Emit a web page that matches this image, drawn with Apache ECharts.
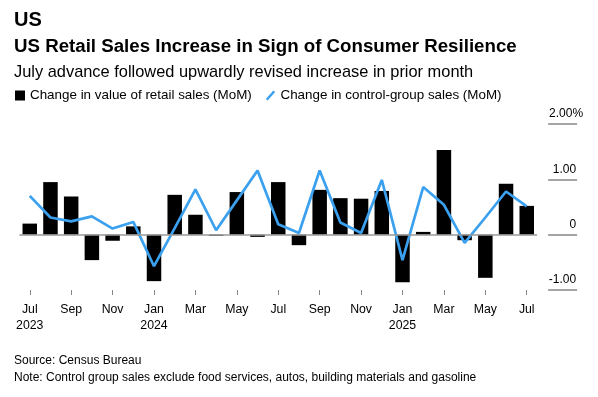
<!DOCTYPE html>
<html>
<head>
<meta charset="utf-8">
<script src="https://cdn.jsdelivr.net/npm/echarts@6/dist/echarts.min.js"></script>
<style>
  html, body { margin: 0; padding: 0; background: #fff; }
  #chart { width: 598px; height: 397px; }
</style>
</head>
<body>
<div id="chart"></div>
<script>
// months Jul 2023 .. Jul 2025
const categories = [
  'Jul\n2023', 'Aug', 'Sep', 'Oct', 'Nov', 'Dec',
  'Jan\n2024', 'Feb', 'Mar', 'Apr', 'May', 'Jun', 'Jul', 'Aug', 'Sep', 'Oct', 'Nov', 'Dec',
  'Jan\n2025', 'Feb', 'Mar', 'Apr', 'May', 'Jun', 'Jul'
]
// change in value of retail sales, MoM %
const retailSales = [
  0.20, 0.95, 0.69, -0.46, -0.11, 0.15,
  -0.84, 0.72, 0.36, -0.02, 0.77, -0.04, 0.95, -0.19, 0.81, 0.66, 0.65, 0.79,
  -0.86, 0.05, 1.53, -0.10, -0.78, 0.92, 0.52
]
// change in control-group sales, MoM %
const controlGroup = [
  0.70, 0.31, 0.24, 0.33, 0.11, 0.23,
  -0.57, 0.12, 0.82, 0.08, 0.62, 1.16, 0.19, 0.03, 1.16, 0.22, 0.03, 0.99,
  -0.46, 0.86, 0.54, -0.15, 0.31, 0.78, 0.51
]
const yTicks = [-1, 0, 1, 2]

const font = 'Liberation Sans, Arial, sans-serif'
const blue = '#3ba0ee'

const chart = echarts.init(document.getElementById('chart'))

chart.setOption({
  animation: false,
  backgroundColor: '#fff',
  textStyle: { fontFamily: font },
  title: [
    {
      text: 'US', left: 14, top: 10, padding: 0,
      textStyle: { fontSize: 20, fontWeight: 'bold', color: '#000', fontFamily: font }
    },
    {
      text: 'US Retail Sales Increase in Sign of Consumer Resilience',
      left: 14, top: 37, padding: 0,
      textStyle: { fontSize: 18.7, fontWeight: 'bold', color: '#000', fontFamily: font }
    },
    {
      text: 'July advance followed upwardly revised increase in prior month',
      left: 14, top: 64, padding: 0,
      textStyle: { fontSize: 16.4, fontWeight: 'normal', color: '#000', fontFamily: font }
    },
    {
      text: 'Source: Census Bureau\nNote: Control group sales exclude food services, autos, building materials and gasoline',
      left: 14, top: 352.5, padding: 0,
      textStyle: { fontSize: 12, fontWeight: 'normal', color: '#000', lineHeight: 17, fontFamily: font }
    }
  ],
  legend: {
    left: 15, top: 89, padding: 0,
    itemWidth: 10, itemHeight: 10, itemGap: 14,
    textStyle: { fontSize: 13.4, color: '#000', fontFamily: font },
    data: [
      { name: 'Change in value of retail sales (MoM)', icon: 'rect' },
      { name: 'Change in control-group sales (MoM)', icon: 'path://M0,9 L8,0 L10,1.6 L2,10.6 Z', itemStyle: { color: blue } }
    ]
  },
  grid: { left: 19.4, width: 517.7, top: 124, height: 166 },
  xAxis: {
    type: 'category',
    data: categories,
    boundaryGap: true,
    axisLine: { show: false, onZero: false },
    axisTick: { show: true, interval: 1, alignWithLabel: true, length: 5, lineStyle: { color: '#888' } },
    axisLabel: { interval: 1, margin: 12, fontSize: 12.3, lineHeight: 16, color: '#000' },
    splitLine: { show: false }
  },
  yAxis: {
    type: 'value',
    position: 'right',
    offset: 11,
    min: -1, max: 2, interval: 1,
    axisLine: { show: false },
    splitLine: { show: false },
    axisTick: { show: true, length: 29, lineStyle: { color: '#888', width: 1.5 } },
    axisLabel: {
      margin: 0,
      align: 'left',
      verticalAlign: 'bottom',
      padding: [0, 0, 4, 0],
      fontSize: 12,
      color: '#000',
      formatter: function (v) {
        const txt = v === 0 ? '0' : v.toFixed(2)
        // top label starts at the tick's left end and lets '%' hang past the others
        if (v === yTicks[yTicks.length - 1]) return '{t|' + txt + '%}'
        return '{v|' + txt + '}'
      },
      rich: {
        v: { width: 28, align: 'right', fontSize: 12, color: '#000' },
        t: { width: 28, align: 'left', padding: [0, 0, 0, 1], fontSize: 12, color: '#000' }
      }
    }
  },
  series: [
    {
      name: 'Change in value of retail sales (MoM)',
      type: 'bar',
      data: retailSales,
      barWidth: '70%',
      itemStyle: { color: '#000' },
      markLine: {
        silent: true,
        symbol: 'none',
        label: { show: false },
        lineStyle: { color: '#999', width: 1.5, type: 'solid' },
        data: [{ yAxis: 0 }]
      }
    },
    {
      name: 'Change in control-group sales (MoM)',
      type: 'line',
      data: controlGroup,
      showSymbol: false,
      symbol: 'none',
      lineStyle: { color: blue, width: 2.7 },
      itemStyle: { color: blue },
      z: 3
    }
  ]
})
</script>
</body>
</html>
